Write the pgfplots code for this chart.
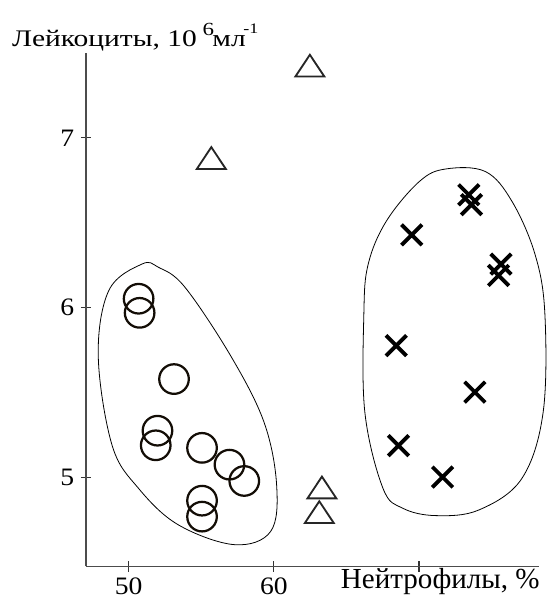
\documentclass[border=0pt]{standalone}
\usepackage{pgfplots}
\pgfplotsset{compat=1.18}
\usepackage{fontspec}
\setmainfont{Liberation Serif}

\begin{document}
\begin{tikzpicture}
\begin{axis}[
    x=10.99pt, y=128.6pt,
    xmin=47.06, xmax=78.3,
    ymin=4.477, ymax=7.5,
    axis x line=bottom, axis y line=left,
    axis line style={-, draw=black!70, line width=1pt},
    xtick={50,60,70}, xticklabels={50,60,},
    ytick={5,6,7},
    major tick length=8pt,
    tick style={black!80, line width=0.8pt},
    tick label style={font=\fontsize{19}{21}\selectfont, xscale=1.1},
    /pgf/number format/assume math mode=true,
    yticklabel style={xshift=-1pt},
    xticklabel style={yshift=-1pt},
    clip=false,
]
% группа 1: кружки
\addplot[only marks, mark=o, mark size=11.2pt, line width=1.7pt, color=black!90!brown]
  coordinates {
    (50.68,6.053) (50.75,5.97) (53.12,5.58) (51.98,5.276) (51.86,5.19)
    (55.05,5.175) (56.94,5.076) (57.96,4.98) (55.05,4.864) (55.05,4.77)
  };
% группа 2: треугольники
\addplot[only marks, mark=triangle, mark size=11pt, line width=1.4pt, color=black!85,
    mark options={xscale=1.15}]
  coordinates {
    (62.48,7.404) (55.69,6.86) (63.31,4.92) (63.13,4.775)
  };
% группа 3: крестики
\addplot[only marks, mark=x, mark size=11pt, line width=2.9pt, color=black]
  coordinates {
    (73.43,6.665) (73.62,6.607) (69.50,6.429) (75.65,6.257) (75.48,6.19)
    (68.43,5.777) (73.85,5.503) (68.59,5.188) (71.62,5.003)
  };
% контуры групп
\draw[black, line width=0.6pt] plot[smooth cycle, tension=0.6] coordinates {
    (50.91,6.257) (48.63,6.102) (47.90,5.713) (48.86,5.188) (50.68,4.936)
    (53.41,4.722) (57.28,4.605) (59.78,4.683) (60.19,4.955) (59.33,5.324)
    (57.05,5.713) (53.87,6.121) (52.05,6.238)
};
\draw[black, line width=0.6pt] plot[smooth cycle, tension=0.6] coordinates {
    (71.84,6.817) (70.02,6.743) (67.75,6.510) (66.50,6.257) (66.20,5.966)
    (66.27,5.383) (67.52,4.936) (68.89,4.819) (71.16,4.776) (74.12,4.809)
    (77.08,4.994) (78.55,5.383) (78.67,5.966) (77.99,6.315) (76.40,6.627)
    (74.57,6.802)
};
% подписи осей
\node[anchor=base west, inner sep=0pt, xscale=1.24, font=\fontsize{18}{20}\selectfont]
  at (41.95,7.538) {Лейкоциты, 10\hspace{3.5pt}\raisebox{8pt}{\fontsize{14}{14}\selectfont 6}\hspace{-1pt}мл\hspace{-1.5pt}\raisebox{10pt}{\fontsize{11}{11}\selectfont -1}};
\node[anchor=base east, inner sep=0pt, font=\fontsize{22}{24}\selectfont]
  at (78.33,4.349) {Нейтрофилы, \%};
% рамка рисунка
\path (41.13,7.812) rectangle (78.74,4.320);
\end{axis}
\end{tikzpicture}
\end{document}
